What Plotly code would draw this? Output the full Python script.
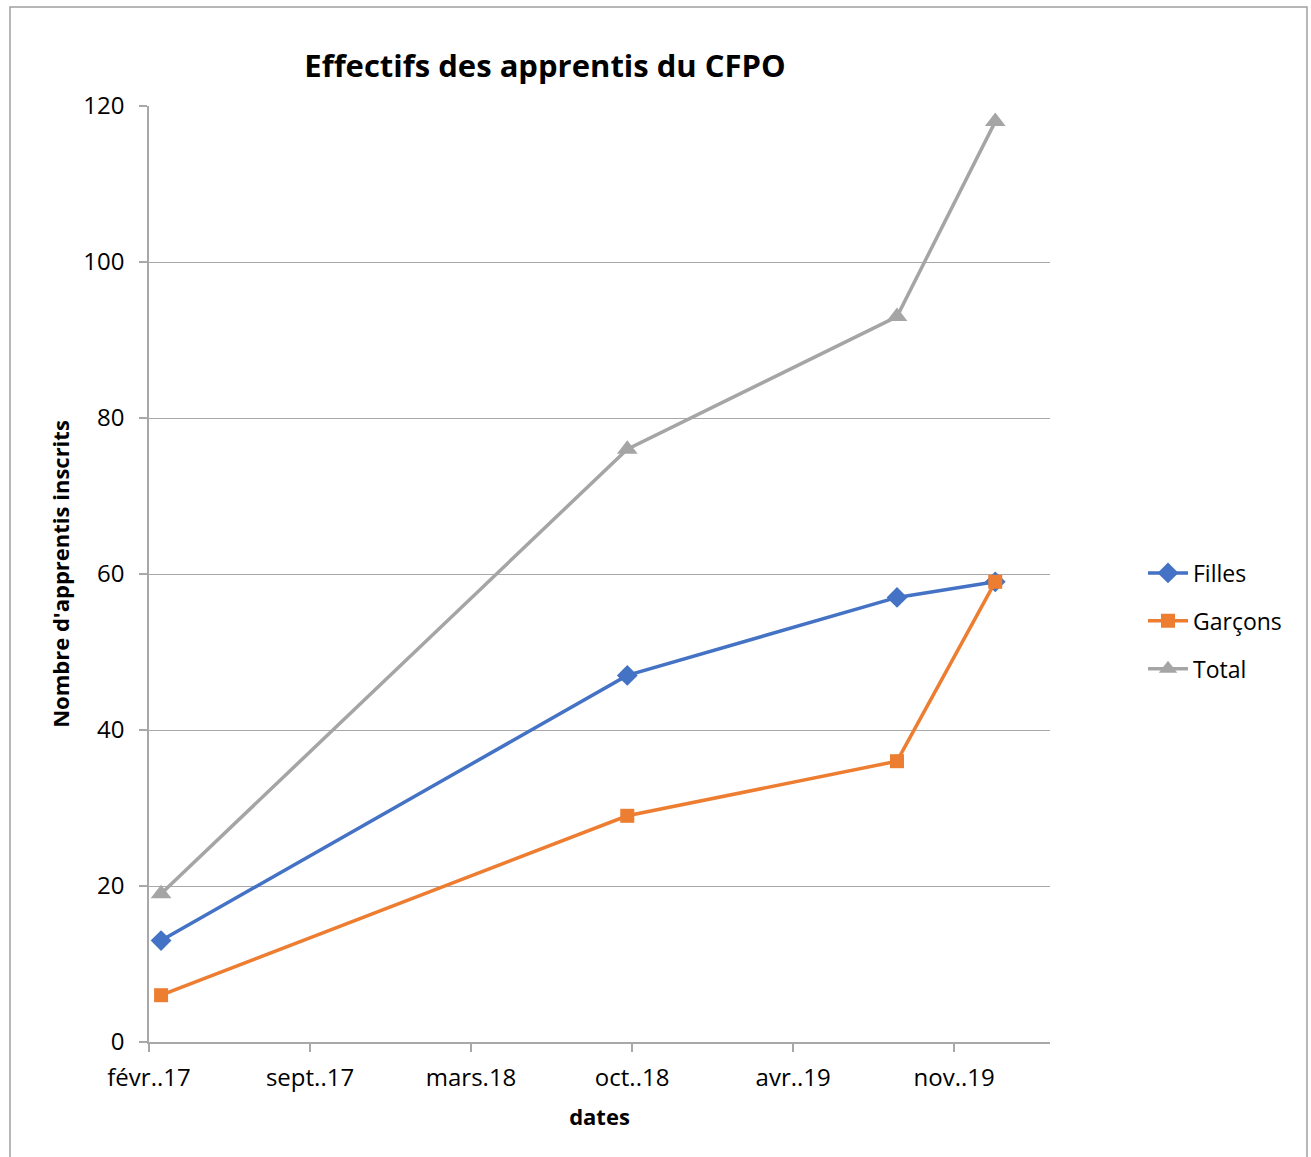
import plotly.graph_objects as go

# ---- data ----
dates = ["2017-03-01", "2018-10-01", "2019-09-01", "2020-01-01"]
filles = [13, 47, 57, 59]
garcons = [6, 29, 36, 59]
total = [19, 76, 93, 118]

tick_dates = ["2017-02-14", "2017-09-02", "2018-03-21", "2018-10-07", "2019-04-25", "2019-11-11"]
tick_labels = ["févr..17", "sept..17", "mars.18", "oct..18", "avr..19", "nov..19"]
x_range = ["2017-02-14", "2020-03-09"]
y_ticks = [0, 20, 40, 60, 80, 100, 120]

FONT = "Open Sans"
GRID = "#A8A8A8"

fig = go.Figure()
series = [
    ("Filles", filles, "#4472C4", "diamond", 16),
    ("Garçons", garcons, "#ED7D31", "square", 14),
    ("Total", total, "#A5A5A5", "triangle-up", 18),
]
for name, vals, color, sym, msize in series:
    fig.add_trace(go.Scatter(
        x=dates, y=vals, name=name, mode="lines+markers",
        line=dict(color=color, width=3.5),
        marker=dict(symbol=sym, size=msize, color=color),
        legendgroup=name,
    ))

fig.update_layout(
    width=1311, height=1157,
    margin=dict(l=149, r=261, t=106, b=115),
    paper_bgcolor="white", plot_bgcolor="white",
    font=dict(family=FONT, size=23, color="#000000"),
    title=dict(
        text="<b>Effectifs des apprentis du CFPO</b>",
        font=dict(family=FONT, size=31, color="#000000"),
        x=(545 - 149) / 901, xref="paper", xanchor="center",
        y=1 - 66 / 1157, yref="container", yanchor="middle",
    ),
    legend=dict(
        x=(1143 - 149) / 901, y=(1042 - 621) / 936,
        xanchor="left", yanchor="middle",
        font=dict(family=FONT, size=23, color="#000000"),
        tracegroupgap=15, itemwidth=40,
        bgcolor="rgba(0,0,0,0)",
    ),
    showlegend=True,
)

fig.update_xaxes(
    type="date", range=x_range,
    tickmode="array", tickvals=tick_dates, ticktext=tick_labels,
    showgrid=False, showline=True, linecolor=GRID, linewidth=1.5,
    ticks="outside", ticklen=8, tickcolor=GRID, tickwidth=1.5,
    ticklabelstandoff=5,
    tickfont=dict(family=FONT, size=24, color="#000000"),
    title=dict(text="<b>dates</b>", font=dict(family=FONT, size=22, color="#000000"), standoff=18),
    zeroline=False,
)
fig.update_yaxes(
    range=[0, 120], tickmode="array", tickvals=y_ticks,
    showgrid=True, gridcolor=GRID, gridwidth=1.2,
    showline=True, linecolor=GRID, linewidth=1.5,
    ticks="outside", ticklen=8, tickcolor=GRID, tickwidth=1.5,
    ticklabelstandoff=10,
    tickfont=dict(family=FONT, size=24, color="#000000"),
    title=dict(text="<b>Nombre d'apprentis inscrits</b>", font=dict(family=FONT, size=22, color="#000000"), standoff=8),
    zeroline=False,
)

# chart border
fig.add_shape(
    type="rect", xref="paper", yref="paper",
    x0=(10 - 149) / 901, x1=(1307 - 149) / 901,
    y0=(1042 - 1200) / 936, y1=(1042 - 7) / 936,
    line=dict(color="#A0A0A0", width=1.5), fillcolor="rgba(0,0,0,0)", layer="below",
)

fig.write_html("out.html", config={"displayModeBar": False},
               post_script="document.body.style.margin='0';")
